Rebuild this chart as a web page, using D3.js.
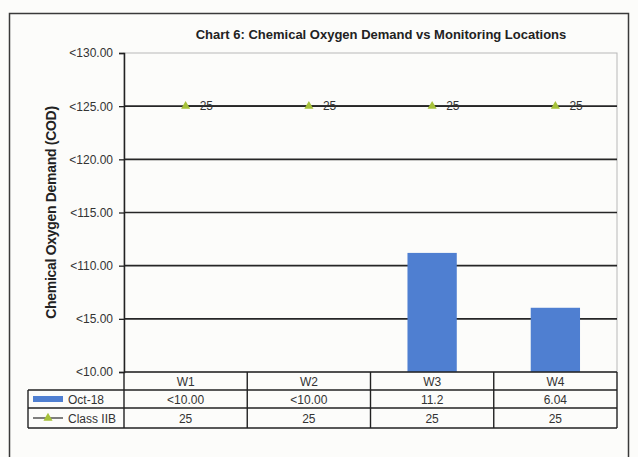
<!DOCTYPE html>
<html>
<head>
<meta charset="utf-8">
<script src="https://cdn.jsdelivr.net/npm/d3@7"></script>
<style>
  body { margin: 0; background: #fcfcfa; }
  text { font-family: "Liberation Sans", Arial, sans-serif; }
</style>
</head>
<body>
<div id="chart"></div>
<script>
// Chart data
var locations = ["W1", "W2", "W3", "W4"];
var octValues = [null, null, 11.2, 6.04];          // <10.00 reads as no bar
var octLabels = ["<10.00", "<10.00", "11.2", "6.04"];
var classValues = [25, 25, 25, 25];
var classLabels = ["25", "25", "25", "25"];
var yTicks = [0, 5, 10, 15, 20, 25, 30];
var yTickLabels = ["<10.00", "<15.00", "<110.00", "<115.00", "<120.00", "<125.00", "<130.00"];

var svg_Width = 638;
var svg_Height = 457;

var chart_Margin = { top: 53, right: 21, bottom: 85, left: 124 };
var chart_Width = svg_Width - chart_Margin.left - chart_Margin.right;
var chart_Height = svg_Height - chart_Margin.top - chart_Margin.bottom;

var svg = d3.select("#chart")
  .append("svg")
  .attr("width", svg_Width)
  .attr("height", svg_Height);

// outer frame (open at the bottom, like the scan)
svg.append("path")
  .attr("d", "M9.5,457 V13.5 H628.5 V457")
  .attr("fill", "none")
  .attr("stroke", "#3a3a3a")
  .attr("stroke-width", 1.5);

svg.append("text")
  .attr("x", 381)
  .attr("y", 39)
  .attr("text-anchor", "middle")
  .attr("font-size", "13px")
  .attr("font-weight", "bold")
  .attr("fill", "#222")
  .text("Chart 6: Chemical Oxygen Demand vs Monitoring Locations");

var chart_Group = svg.append("g")
  .attr("transform", `translate(${chart_Margin.left}, ${chart_Margin.top})`);

var xBand_Scale = d3.scaleBand()
  .domain(locations)
  .range([0, chart_Width])
  .paddingInner(0.6)
  .paddingOuter(0.3);

var yLinear_Scale = d3.scaleLinear()
  .domain([0, 30])
  .range([chart_Height, 0]);

// plot area border (light)
chart_Group.append("rect")
  .attr("x", 0).attr("y", 0)
  .attr("width", chart_Width).attr("height", chart_Height)
  .attr("fill", "none")
  .attr("stroke", "#b8b8b8");

// gridlines
chart_Group.selectAll(".grid")
  .data(yTicks.slice(1, -1))
  .enter()
  .append("line")
  .attr("x1", 0).attr("x2", chart_Width)
  .attr("y1", d => yLinear_Scale(d)).attr("y2", d => yLinear_Scale(d))
  .attr("stroke", "#262626")
  .attr("stroke-width", 1.6);

// bars
chart_Group.selectAll(".bar")
  .data(locations.map((d, i) => ({ loc: d, v: octValues[i] })).filter(d => d.v != null))
  .enter()
  .append("rect")
  .attr("class", "bar")
  .attr("x", d => xBand_Scale(d.loc))
  .attr("y", d => yLinear_Scale(d.v))
  .attr("width", xBand_Scale.bandwidth())
  .attr("height", d => chart_Height - yLinear_Scale(d.v))
  .attr("fill", "#4f7fd1");

// left axis
var left_Axis = d3.axisLeft(yLinear_Scale)
  .tickValues(yTicks)
  .tickSize(5)
  .tickPadding(6)
  .tickFormat((d, i) => yTickLabels[i]);

var yAxis_G = chart_Group.append("g").call(left_Axis);
yAxis_G.select(".domain").attr("stroke", "#222").attr("stroke-width", 1.5);
yAxis_G.selectAll(".tick line").attr("stroke", "#222").attr("stroke-width", 1.3);
yAxis_G.selectAll(".tick text")
  .attr("font-size", "12px")
  .attr("fill", "#333")
  .attr("font-family", "Liberation Sans, Arial, sans-serif");

// Class IIB series
var cx = d => xBand_Scale(d) + xBand_Scale.bandwidth() / 2;
var lineData = locations.map((d, i) => ({ loc: d, v: classValues[i], lab: classLabels[i] }));

chart_Group.append("path")
  .datum(lineData)
  .attr("fill", "none")
  .attr("stroke", "#262626")
  .attr("stroke-width", 1.6)
  .attr("d", d3.line().x(d => cx(d.loc)).y(d => yLinear_Scale(d.v)));

var tri = d3.symbol().type(d3.symbolTriangle).size(36);
chart_Group.selectAll(".mark")
  .data(lineData)
  .enter()
  .append("path")
  .attr("d", tri)
  .attr("transform", d => `translate(${cx(d.loc)}, ${yLinear_Scale(d.v)})`)
  .attr("fill", "#a6c13a");

chart_Group.selectAll(".lab")
  .data(lineData)
  .enter()
  .append("text")
  .attr("x", d => cx(d.loc) + 14)
  .attr("y", d => yLinear_Scale(d.v) + 4)
  .attr("font-size", "12px")
  .attr("fill", "#333")
  .text(d => d.lab);

// data table
var rowH = [18, 18, 20];
var tableTop = chart_Height;
var tableLeft = 28 - chart_Margin.left;
var table = chart_Group.append("g");
var rowY = [tableTop, tableTop + rowH[0], tableTop + rowH[0] + rowH[1], tableTop + rowH[0] + rowH[1] + rowH[2]];

// horizontal rules
table.append("line")
  .attr("x1", 0).attr("x2", chart_Width)
  .attr("y1", rowY[0]).attr("y2", rowY[0])
  .attr("stroke", "#222").attr("stroke-width", 1.4);
[1, 2, 3].forEach(function(r) {
  table.append("line")
    .attr("x1", tableLeft).attr("x2", chart_Width)
    .attr("y1", rowY[r]).attr("y2", rowY[r])
    .attr("stroke", "#222").attr("stroke-width", 1.4);
});

// vertical rules
var colEdges = locations.map((d, i) => xBand_Scale.step() * i).concat([chart_Width]);
colEdges.forEach(function(x) {
  table.append("line")
    .attr("x1", x).attr("x2", x)
    .attr("y1", rowY[0]).attr("y2", rowY[3])
    .attr("stroke", "#222").attr("stroke-width", 1.4);
});
table.append("line")
  .attr("x1", tableLeft).attr("x2", tableLeft)
  .attr("y1", rowY[1]).attr("y2", rowY[3])
  .attr("stroke", "#222").attr("stroke-width", 1.4);

// cell text
var rows = [locations, octLabels, classLabels];
rows.forEach(function(vals, r) {
  table.selectAll(".cell" + r)
    .data(vals)
    .enter()
    .append("text")
    .attr("x", (d, i) => cx(locations[i]))
    .attr("y", (rowY[r] + rowY[r + 1]) / 2 + 4.5)
    .attr("text-anchor", "middle")
    .attr("font-size", "12px")
    .attr("fill", "#333")
    .text(d => d);
});

// legend keys in the table
var k1y = (rowY[1] + rowY[2]) / 2;
table.append("rect")
  .attr("x", tableLeft + 5).attr("y", k1y - 3)
  .attr("width", 30).attr("height", 6)
  .attr("fill", "#4f7fd1");
table.append("text")
  .attr("x", tableLeft + 40).attr("y", k1y + 4.5)
  .attr("font-size", "12px").attr("fill", "#333")
  .text("Oct-18");

var k2y = (rowY[2] + rowY[3]) / 2;
table.append("line")
  .attr("x1", tableLeft + 5).attr("x2", tableLeft + 35)
  .attr("y1", k2y).attr("y2", k2y)
  .attr("stroke", "#2a2a2a").attr("stroke-width", 1.2);
table.append("path")
  .attr("d", tri)
  .attr("transform", `translate(${tableLeft + 20}, ${k2y})`)
  .attr("fill", "#a6c13a");
table.append("text")
  .attr("x", tableLeft + 40).attr("y", k2y + 4.5)
  .attr("font-size", "12px").attr("fill", "#333")
  .text("Class IIB");

// y axis title
svg.append("text")
  .attr("transform", "rotate(-90)")
  .attr("x", -(chart_Margin.top + chart_Height / 2))
  .attr("y", 56)
  .attr("text-anchor", "middle")
  .attr("font-size", "14px")
  .attr("font-weight", "bold")
  .attr("fill", "#222")
  .attr("letter-spacing", "-0.3px")
  .text("Chemical Oxygen Demand (COD)");
</script>
</body>
</html>
